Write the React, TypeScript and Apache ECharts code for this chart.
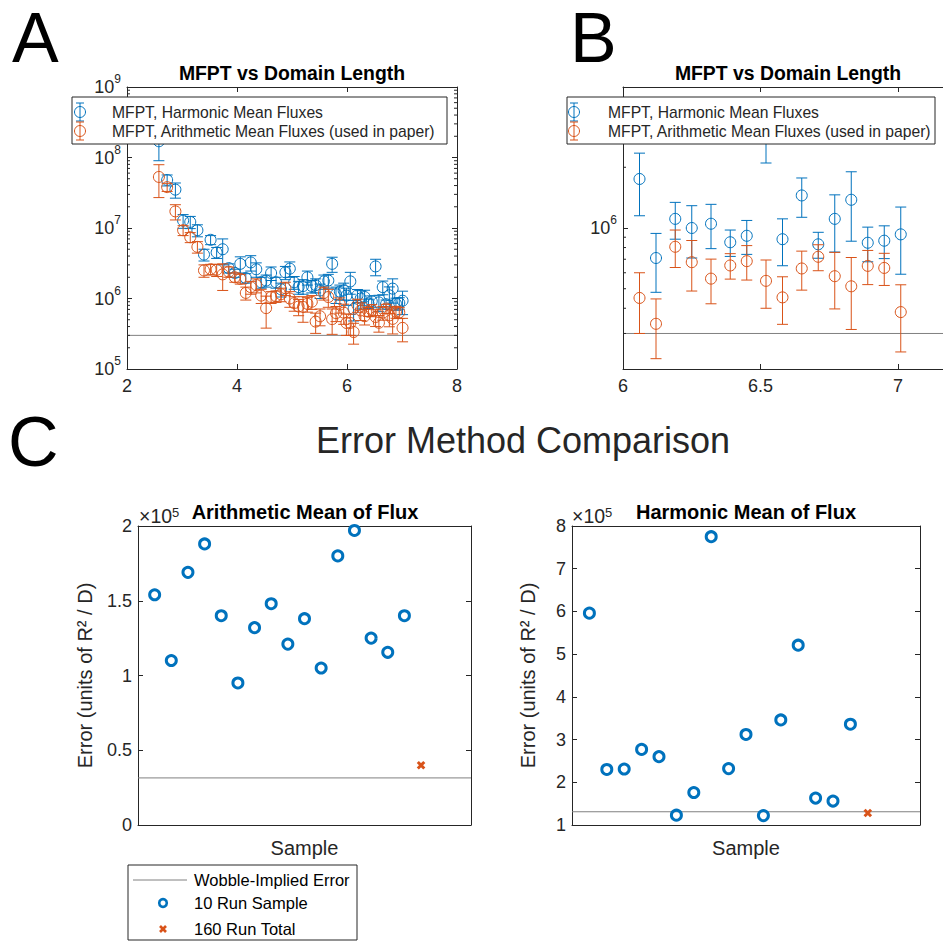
import React, { useEffect, useRef } from 'react';
import * as echarts from 'echarts';

// ---------------- Data ----------------
const DOMAIN_LENGTH = [
  2.58, 2.73, 2.88, 3.02, 3.15, 3.28, 3.40, 3.52, 3.63, 3.74,
  3.85, 3.96, 4.06, 4.16, 4.25, 4.35, 4.44, 4.53, 4.62, 4.71,
  4.80, 4.88, 4.96, 5.04, 5.12, 5.20, 5.28, 5.36, 5.43, 5.51,
  5.58, 5.66, 5.73, 5.80, 5.87, 5.94, 5.99,
  6.06, 6.12, 6.19, 6.25, 6.32, 6.39, 6.45, 6.52, 6.58, 6.65, 6.71, 6.77, 6.83, 6.89, 6.95, 7.01,
];
const HARMONIC_MFPT = [
  1.7e8, 4.8e7, 3.5e7, 1.27e7, 1.22e7, 9.3e6, 4.2e6, 6.8e6, 4.5e6, 5.0e6,
  2.7e6, 2.3e6, 3.1e6, 1.95e6, 3.25e6, 2.6e6, 1.7e6, 1.8e6, 2.3e6, 1.7e6,
  1.35e6, 2.35e6, 2.65e6, 1.7e6, 1.45e6, 1.5e6, 2.0e6, 1.5e6, 1.55e6, 1.3e6,
  1.75e6, 1.8e6, 3.1e6, 1.15e6, 1.25e6, 1.3e6, 1.1e6,
  1.75e6, 7.1e5, 1.11e6, 1.0e6, 1.05e6, 8.5e5, 9.15e5, 2.85e6, 8.8e5, 1.45e6, 8.3e5, 1.11e6, 1.38e6, 8.45e5, 8.65e5, 9.3e5,
];
const HARMONIC_ERR = [
  8.0e7, 8.5e6, 8.5e6, 2.8e6, 2.4e6, 1.8e6, 8e5, 1.0e6, 8e5, 2.0e6,
  4e5, 3e5, 8e5, 3e5, 8e5, 6e5, 3e5, 3.5e5, 5e5, 3e5,
  3e5, 5e5, 6.5e5, 3.5e5, 3e5, 3.5e5, 4.5e5, 3e5, 3.5e5, 3e5,
  4e5, 4e5, 7.5e5, 3e5, 3e5, 3.5e5, 3e5,
  6.0e5, 2.3e5, 2.3e5, 2.9e5, 2.6e5, 1.27e5, 1.75e5, 7.5e5, 2.3e5, 3.2e5, 1.22e5, 3.5e5, 5.2e5, 1.65e5, 1.6e5, 3.4e5,
];
const ARITH_MFPT = [
  5.3e7, 3.8e7, 1.72e7, 9.3e6, 7.4e6, 5.4e6, 2.5e6, 2.6e6, 2.55e6, 2.2e6,
  2.4e6, 2.0e6, 1.9e6, 1.2e6, 1.45e6, 1.55e6, 1.1e6, 7.3e5, 1.05e6, 1.08e6,
  1.15e6, 1.4e6, 1.0e6, 8.6e5, 7.7e5, 7.6e5, 8.4e5, 9.0e5, 4.7e5, 5.6e5,
  1.2e6, 1.05e6, 5.1e5, 6.2e5, 8.2e5, 6.3e5, 4.5e5,
  4.5e5, 3.35e5, 8.07e5, 6.77e5, 5.61e5, 6.52e5, 6.85e5, 5.47e5, 4.53e5, 6.3e5, 7.2e5, 5.77e5, 5.14e5, 6.49e5, 6.34e5, 3.83e5,
];
const ARITH_ERR = [
  2.6e7, 5e6, 4.2e6, 1.5e6, 1.2e6, 1.0e6, 5e5, 4.5e5, 5e5, 9e5,
  4e5, 3e5, 3e5, 2.5e5, 3e5, 3.5e5, 2.5e5, 3.5e5, 2e5, 2e5,
  2.5e5, 3e5, 2.5e5, 2e5, 2e5, 3e5, 2e5, 2e5, 1.5e5, 1.5e5,
  2.5e5, 3e5, 2e5, 1.5e5, 2e5, 2e5, 1.5e5,
  1.5e5, 1.1e5, 1.7e5, 1.9e5, 1.4e5, 0.94e5, 1.33e5, 1.47e5, 1.2e5, 1.38e5, 1.06e5, 1.8e5, 2.0e5, 1.25e5, 1.15e5, 1.4e5,
];
const WOBBLE_MFPT = 3.0e5;

const ARITH_SAMPLE_ERR = [1.54e5, 1.10e5, 1.69e5, 1.88e5, 1.40e5, 0.95e5, 1.32e5, 1.48e5, 1.21e5, 1.38e5, 1.05e5, 1.80e5, 1.97e5, 1.25e5, 1.155e5, 1.40e5];
const ARITH_TOTAL_ERR = 0.40e5;
const ARITH_WOBBLE = 0.315e5;
const HARM_SAMPLE_ERR = [5.96e5, 2.30e5, 2.31e5, 2.77e5, 2.60e5, 1.23e5, 1.76e5, 7.75e5, 2.32e5, 3.12e5, 1.22e5, 3.46e5, 5.21e5, 1.63e5, 1.56e5, 3.36e5];
const HARM_TOTAL_ERR = 1.28e5;
const HARM_WOBBLE = 1.31e5;

const MINOR_MANTISSA = [2, 3, 4, 5, 6, 7, 8, 9];
const A_DECADES = [1e5, 1e6, 1e7, 1e8];
const B_DECADES = [1e5, 1e6];

const SERIES_NAMES = ['MFPT, Harmonic Mean Fluxes', 'MFPT, Arithmetic Mean Fluxes (used in paper)'];
const C_LEGEND = ['Wobble-Implied Error', '10 Run Sample', '160 Run Total'];

// ---------------- Styles ----------------
const BLUE = '#0072BD';
const ORANGE = '#D95319';
const AXIS = '#262626';
const GRAY = '#808080';
const FONT = "'Liberation Sans', Arial, Helvetica, sans-serif";

const A_X = [2, 8];
const B_X = [6, 7.2];
const C_X = [0, 20];

function errorBarSeries(name: string, xi: number, yi: number, xs: number[], means: number[], errs: number[], color: string, xRange: number[]) {
  const data: number[][] = [];
  xs.forEach((x, i) => {
    if (x >= xRange[0] && x <= xRange[1]) data.push([x, means[i], errs[i]]);
  });
  return {
    type: 'custom',
    name,
    xAxisIndex: xi,
    yAxisIndex: yi,
    clip: true,
    silent: true,
    data,
    encode: { x: 0, y: 1 },
    renderItem: (_p: any, api: any) => {
      const x = api.value(0), m = api.value(1), e = api.value(2);
      const c = api.coord([x, m]);
      const t = api.coord([x, m + e]);
      const b = api.coord([x, m - e]);
      const cap = 5.5;
      const st = { stroke: color, lineWidth: 1, fill: 'none' };
      return {
        type: 'group',
        children: [
          { type: 'line', shape: { x1: c[0], y1: t[1], x2: c[0], y2: b[1] }, style: st },
          { type: 'line', shape: { x1: c[0] - cap, y1: t[1], x2: c[0] + cap, y2: t[1] }, style: st },
          { type: 'line', shape: { x1: c[0] - cap, y1: b[1], x2: c[0] + cap, y2: b[1] }, style: st },
          { type: 'circle', shape: { cx: c[0], cy: c[1], r: 5.5 }, style: st },
        ],
      };
    },
  };
}

function minorTickSeries(xi: number, yi: number, decades: number[], xRange: number[], yRange: number[]) {
  const vals: number[][] = [];
  decades.forEach((d) => MINOR_MANTISSA.forEach((m) => {
    const v = m * d;
    if (v > yRange[0] && v < yRange[1]) vals.push([xRange[0], v]);
  }));
  return {
    type: 'custom',
    xAxisIndex: xi,
    yAxisIndex: yi,
    silent: true,
    data: vals,
    encode: { x: 0, y: 1 },
    renderItem: (_p: any, api: any) => {
      const v = api.value(1);
      const l = api.coord([xRange[0], v]);
      const r = api.coord([xRange[1], v]);
      const st = { stroke: AXIS, lineWidth: 1 };
      return {
        type: 'group',
        children: [
          { type: 'line', shape: { x1: l[0], y1: l[1], x2: l[0] + 3, y2: l[1] }, style: st },
          { type: 'line', shape: { x1: r[0] - 3, y1: r[1], x2: r[0], y2: r[1] }, style: st },
        ],
      };
    },
  };
}

function lineSeries(xi: number, yi: number, xRange: number[], y: number) {
  return {
    type: 'line',
    xAxisIndex: xi,
    yAxisIndex: yi,
    silent: true,
    symbol: 'none',
    data: [[xRange[0], y], [xRange[1], y]],
    lineStyle: { color: GRAY, width: 1 },
    z: 1,
  };
}

const axisLine = { show: true, onZero: false, lineStyle: { color: AXIS, width: 1 } };
const axisTick = { show: true, inside: true, length: 5, lineStyle: { color: AXIS, width: 1 } };
const labelBase = { color: AXIS, fontFamily: FONT, fontSize: 18 };

function xPair(grid: number, range: number[], interval: number | null, opts: any = {}) {
  const base: any = {
    type: 'value', gridIndex: grid, min: range[0], max: range[1],
    axisLine, splitLine: { show: false },
  };
  if (interval) base.interval = interval;
  const bottom = {
    ...base, position: 'bottom',
    axisTick: interval ? axisTick : { show: false },
    axisLabel: interval ? { ...labelBase, margin: 8, showMaxLabel: opts.showMax !== false, formatter: (v: number) => String(v) } : { show: false },
    ...(opts.name ? { name: opts.name, nameLocation: 'middle', nameGap: opts.nameGap, nameTextStyle: { color: AXIS, fontFamily: FONT, fontSize: 20 } } : {}),
  };
  const top = {
    ...base, position: 'top',
    axisTick: interval ? axisTick : { show: false },
    axisLabel: { show: false },
  };
  return [bottom, top];
}

function logYPair(grid: number, min: number, max: number) {
  const base: any = {
    type: 'log', logBase: 10, gridIndex: grid, min, max,
    axisLine, splitLine: { show: false }, minorTick: { show: false },
  };
  const left = {
    ...base, position: 'left', axisTick,
    axisLabel: {
      ...labelBase, margin: 6, lineHeight: 28, showMinLabel: min === 1e5, showMaxLabel: max === 1e9,
      formatter: (v: number) => `10{s|${Math.round(Math.log10(v))}}`,
      rich: { s: { fontSize: 12, fontFamily: FONT, color: AXIS, verticalAlign: 'top', lineHeight: 12 } },
    },
  };
  const right = { ...base, position: 'right', axisTick, axisLabel: { show: false } };
  return [left, right];
}

function linYPair(grid: number, min: number, max: number, interval: number, nameGap: number) {
  const base: any = {
    type: 'value', gridIndex: grid, min, max, interval,
    axisLine, splitLine: { show: false },
  };
  const left = {
    ...base, position: 'left', axisTick,
    axisLabel: { ...labelBase, margin: 6, formatter: (v: number) => String(Math.round(v / 1e5 * 100) / 100) },
    name: 'Error (units of R² / D)', nameLocation: 'middle', nameGap,
    nameTextStyle: { color: AXIS, fontFamily: FONT, fontSize: 20 },
  };
  const right = { ...base, position: 'right', axisTick, axisLabel: { show: false } };
  return [left, right];
}

function text(t: string, x: number, y: number, size: number, opts: any = {}) {
  return {
    type: 'text', z: 100,
    style: {
      text: t, x, y, fontSize: size, fontFamily: opts.family || FONT, fontWeight: opts.weight || 'normal',
      fill: opts.fill || '#000',
      align: opts.align || 'left', verticalAlign: 'middle',
      textAlign: opts.align || 'left', textVerticalAlign: 'middle',
      ...(opts.rich ? { rich: opts.rich } : {}),
    },
  };
}

function ebIcon(cx: number, cy: number, color: string) {
  const st = { stroke: color, lineWidth: 1, fill: 'none' };
  return [
    { type: 'line', z: 101, shape: { x1: cx, y1: cy - 9, x2: cx, y2: cy + 9 }, style: st },
    { type: 'line', z: 101, shape: { x1: cx - 4, y1: cy - 9, x2: cx + 4, y2: cy - 9 }, style: st },
    { type: 'line', z: 101, shape: { x1: cx - 4, y1: cy + 9, x2: cx + 4, y2: cy + 9 }, style: st },
    { type: 'circle', z: 101, shape: { cx, cy, r: 5.5 }, style: st },
  ];
}

function mfptLegend(x: number, w: number, iconX: number, textX: number) {
  return [
    { type: 'rect', z: 99, shape: { x, y: 97, width: w, height: 47 }, style: { fill: '#fff', stroke: AXIS, lineWidth: 1 } },
    ...ebIcon(iconX, 112, BLUE),
    ...ebIcon(iconX, 131, ORANGE),
    text(SERIES_NAMES[0], textX, 112, 15.7, { fill: AXIS }),
    text(SERIES_NAMES[1], textX, 131, 15.7, { fill: AXIS }),
  ];
}

const EXP_RICH = { s: { fontSize: 13, fontFamily: FONT, fill: AXIS, color: AXIS, verticalAlign: 'top', lineHeight: 13 } };

export default function App() {
  const ref = useRef<HTMLDivElement>(null);
  useEffect(() => {
    if (!ref.current) return;
    const chart = echarts.init(ref.current, undefined, { renderer: 'svg' });

    const sampleIdx = ARITH_SAMPLE_ERR.map((_, i) => i + 1);
    const totalIdx = sampleIdx.length + 1;

    const option: any = {
      animation: false,
      backgroundColor: '#fff',
      textStyle: { fontFamily: FONT },
      grid: [
        { left: 127, top: 87, width: 330, height: 282 },
        { left: 623, top: 87, width: 330, height: 282 },
        { left: 138, top: 526, width: 333, height: 299 },
        { left: 572, top: 526, width: 348, height: 299 },
      ],
      xAxis: [
        ...xPair(0, A_X, 2),
        ...xPair(1, B_X, 0.5, { showMax: false }),
        ...xPair(2, C_X, null, { name: 'Sample', nameGap: 13 }),
        ...xPair(3, C_X, null, { name: 'Sample', nameGap: 13 }),
      ],
      yAxis: [
        ...logYPair(0, 1e5, 1e9),
        ...logYPair(1, 2e5, 5e6),
        ...linYPair(2, 0, 2e5, 0.5e5, 43),
        ...linYPair(3, 1e5, 8e5, 1e5, 34),
      ],
      series: [
        lineSeries(0, 0, A_X, WOBBLE_MFPT),
        minorTickSeries(0, 0, A_DECADES, A_X, [1e5, 1e9]),
        errorBarSeries(SERIES_NAMES[0], 0, 0, DOMAIN_LENGTH, HARMONIC_MFPT, HARMONIC_ERR, BLUE, A_X),
        errorBarSeries(SERIES_NAMES[1], 0, 0, DOMAIN_LENGTH, ARITH_MFPT, ARITH_ERR, ORANGE, A_X),

        lineSeries(2, 2, B_X, WOBBLE_MFPT),
        minorTickSeries(2, 2, B_DECADES, B_X, [2e5, 5e6]),
        errorBarSeries(SERIES_NAMES[0], 2, 2, DOMAIN_LENGTH, HARMONIC_MFPT, HARMONIC_ERR, BLUE, B_X),
        errorBarSeries(SERIES_NAMES[1], 2, 2, DOMAIN_LENGTH, ARITH_MFPT, ARITH_ERR, ORANGE, B_X),

        lineSeries(4, 4, C_X, ARITH_WOBBLE),
        {
          type: 'scatter', name: C_LEGEND[1], xAxisIndex: 4, yAxisIndex: 4, silent: true,
          symbol: 'circle', symbolSize: 10,
          itemStyle: { color: 'rgba(0,0,0,0)', borderColor: BLUE, borderWidth: 3, opacity: 1 },
          data: ARITH_SAMPLE_ERR.map((v, i) => [sampleIdx[i], v]),
        },
        {
          type: 'scatter', name: C_LEGEND[2], xAxisIndex: 4, yAxisIndex: 4, silent: true,
          symbol: 'path://M0 0L10 10M10 0L0 10', symbolSize: 6.5,
          itemStyle: { color: 'rgba(0,0,0,0)', borderColor: ORANGE, borderWidth: 3, opacity: 1 },
          data: [[totalIdx, ARITH_TOTAL_ERR]],
        },

        lineSeries(6, 6, C_X, HARM_WOBBLE),
        {
          type: 'scatter', name: C_LEGEND[1], xAxisIndex: 6, yAxisIndex: 6, silent: true,
          symbol: 'circle', symbolSize: 10,
          itemStyle: { color: 'rgba(0,0,0,0)', borderColor: BLUE, borderWidth: 3, opacity: 1 },
          data: HARM_SAMPLE_ERR.map((v, i) => [sampleIdx[i], v]),
        },
        {
          type: 'scatter', name: C_LEGEND[2], xAxisIndex: 6, yAxisIndex: 6, silent: true,
          symbol: 'path://M0 0L10 10M10 0L0 10', symbolSize: 6.5,
          itemStyle: { color: 'rgba(0,0,0,0)', borderColor: ORANGE, borderWidth: 3, opacity: 1 },
          data: [[totalIdx, HARM_TOTAL_ERR]],
        },
      ],
      graphic: [
        text('A', 12, 37.5, 70),
        text('B', 570, 37.5, 70),
        text('C', 8, 442, 70),
        text('MFPT vs Domain Length', 292, 72.5, 19.4, { weight: 'bold', align: 'center' }),
        text('MFPT vs Domain Length', 788, 73, 19.4, { weight: 'bold', align: 'center' }),
        ...mfptLegend(72, 375, 80, 112),
        ...mfptLegend(567, 368, 574, 608),
        text('Error Method Comparison', 523, 440, 36, { align: 'center', fill: AXIS }),
        text('Arithmetic Mean of Flux', 305, 512, 20, { weight: 'bold', align: 'center' }),
        text('Harmonic Mean of Flux', 746, 512, 20, { weight: 'bold', align: 'center' }),
        text('×10{s|5}', 139, 516, 19.5, { fill: AXIS, rich: EXP_RICH }),
        text('×10{s|5}', 572, 516, 19.5, { fill: AXIS, rich: EXP_RICH }),
        // bottom legend
        { type: 'rect', z: 99, shape: { x: 128, y: 865, width: 229, height: 75 }, style: { fill: '#fff', stroke: AXIS, lineWidth: 1 } },
        { type: 'line', z: 101, shape: { x1: 133, y1: 880, x2: 187, y2: 880 }, style: { stroke: GRAY, lineWidth: 1 } },
        { type: 'circle', z: 101, shape: { cx: 163, cy: 903, r: 3.8 }, style: { fill: 'none', stroke: BLUE, lineWidth: 2.6 } },
        { type: 'line', z: 101, shape: { x1: 160, y1: 926, x2: 166, y2: 932 }, style: { stroke: ORANGE, lineWidth: 2.6 } },
        { type: 'line', z: 101, shape: { x1: 166, y1: 926, x2: 160, y2: 932 }, style: { stroke: ORANGE, lineWidth: 2.6 } },
        text(C_LEGEND[0], 194, 880, 16.5),
        text(C_LEGEND[1], 194, 903, 16.5),
        text(C_LEGEND[2], 194, 929, 16.5),
      ],
    };
    chart.setOption(option);
    return () => chart.dispose();
  }, []);
  return (
    <div style={{ position: 'absolute', left: 0, top: 0, width: 943, height: 941, overflow: 'hidden', background: '#fff' }}>
      <div ref={ref} style={{ position: 'absolute', left: 0, top: 0, width: 960, height: 941 }} />
    </div>
  );
}
